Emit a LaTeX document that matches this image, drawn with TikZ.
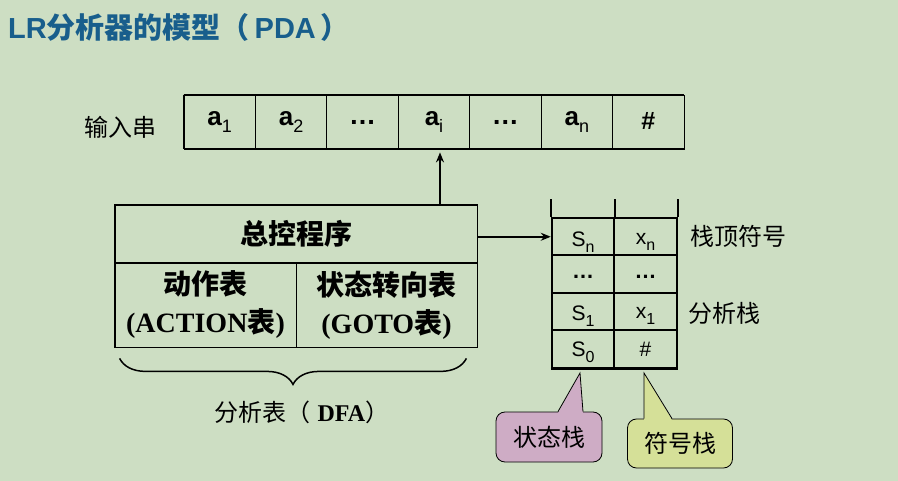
\documentclass[tikz,border=0pt]{standalone}
\usepackage{fontspec}
\setmainfont{Liberation Sans}
\newfontfamily\cjk{Noto Sans CJK SC}
\newfontfamily\tms{Liberation Serif}
\usetikzlibrary{arrows.meta,decorations.pathreplacing}
\definecolor{bgc}{RGB}{205,222,195}
\definecolor{titlec}{RGB}{24,94,140}
\definecolor{pinkc}{RGB}{206,172,197}
\definecolor{limec}{RGB}{213,224,152}
\newcommand{\fs}[1]{\fontsize{#1}{#1}\selectfont}
\newcommand{\tapesym}[2]{{\fs{26}\bfseries #1}\raisebox{-7pt}{\fs{18}#2}}
\newcommand{\stk}[2]{{\fs{21}#1}\raisebox{-6pt}{\fs{16}#2}}
\tikzset{
  tapecell/.style={draw, line width=0.8pt, minimum width=71.43pt, minimum height=54pt, inner sep=0pt},
  ctrlcell/.style={draw, line width=0.8pt, inner sep=0pt, align=center, font=\fontsize{28}{38}\selectfont},
  stcell/.style={draw, line width=2pt, minimum width=62.5pt, minimum height=37.5pt, inner sep=0pt, text depth=0pt},
  lbl/.style={inner sep=0pt},
  callout/.style={draw, line width=0.8pt, rounded corners=9pt, inner sep=0pt},
  conn/.style={line width=2pt, -{Stealth[length=10pt,width=8pt]}}
}
\begin{document}
\begin{tikzpicture}[x=1pt,y=-1pt]
\fill[bgc] (0,0) rectangle (898,481);
\useasboundingbox (0,0) rectangle (898,481);

% title
\node[lbl, anchor=west, text=titlec] (title) at (8,27) {\fs{29}\bfseries LR{\cjk 分析器的模型（}\,PDA\,{\cjk ）}};

% input tape
\node[lbl, anchor=west] (inlbl) at (84,127) {\fs{24}\cjk 输入串};
\node[tapecell] (t1) at (219.71,122) {\tapesym{a}{1}};
\node[tapecell] (t2) at (291.14,122) {\tapesym{a}{2}};
\node[tapecell] (t3) at (362.57,122) {\fs{27}\bfseries …};
\node[tapecell] (t4) at (434.00,122) {\tapesym{a}{i}};
\node[tapecell] (t5) at (505.43,122) {\fs{27}\bfseries …};
\node[tapecell] (t6) at (576.86,122) {\tapesym{a}{n}};
\node[tapecell] (t7) at (648.29,122) {\raisebox{3pt}{\fs{25}\bfseries \#}};
\draw[line width=2pt] (t1.north west) -- (t7.north east);
\draw[line width=2pt] (t1.south west) -- (t7.south east);
\draw[line width=1.6pt] (t1.north west) -- (t1.south west);

% control program box
\node[ctrlcell, minimum width=362pt, minimum height=57pt] (ctop) at (296,233.5) {\cjk\bfseries 总控程序};
\node[ctrlcell, minimum width=181pt, minimum height=84pt] (cact) at (205.5,305) {{\cjk\bfseries 动作表}\\{\tms\bfseries (ACTION{\cjk 表})}};
\node[ctrlcell, minimum width=181pt, minimum height=84pt] (cgoto) at (386.5,305) {{\cjk\bfseries 状态转向表}\\{\tms\bfseries (GOTO{\cjk 表})}};
\draw[line width=1.6pt] (ctop.north west) rectangle (cgoto.south east);

% arrow to tape
\coordinate (ati) at ([shift={(6,3)}]t4.south);
\draw[conn] (ctop.north -| ati) -- (ati);

% brace and label
\draw[line width=1.5pt, decorate, decoration={brace, mirror, amplitude=26pt}]
  ([shift={(5,11)}]cact.south west) -- ([shift={(-11,11)}]cgoto.south east);
\node[lbl] (dfa) at (302,412) {\fs{24}{\cjk 分析表（}\ {\tms\bfseries DFA}{\cjk ）}};

% stack
\node[stcell] (sn) at (583,236.75) {\raisebox{-4pt}{\stk{S}{n}}};
\node[stcell] (xn) at (645.5,236.75) {\raisebox{-4pt}{\stk{x}{n}}};
\node[stcell] (sd) at (583,274.25) {\raisebox{-4pt}{\fs{22}\bfseries …}};
\node[stcell] (xd) at (645.5,274.25) {\raisebox{-4pt}{\fs{22}\bfseries …}};
\node[stcell] (s1) at (583,311.75) {\raisebox{-3pt}{\stk{S}{1}}};
\node[stcell] (x1) at (645.5,311.75) {\raisebox{-3pt}{\stk{x}{1}}};
\node[stcell] (s0) at (583,349.25) {\stk{S}{0}};
\node[stcell] (h0) at (645.5,349.25) {\fs{21}\#};
\draw[line width=2pt] (sn.north west) -- ++(0,-18);
\draw[line width=2pt] (sn.north east) -- ++(0,-18);
\draw[line width=2pt] (xn.north east) -- ++(0,-18);
\draw[line width=2.6pt] (s0.south west) -- (h0.south east);

\draw[conn] (ctop.east |- sn.west) -- (sn.west);

\node[lbl, anchor=west] (toplbl) at (690,236) {\fs{24}\cjk 栈顶符号};
\node[lbl, anchor=west] (stklbl) at (688,313) {\fs{24}\cjk 分析栈};

% callouts
\node[callout, fill=pinkc, minimum width=106pt, minimum height=50pt] (cs) at (549,437) {\fs{24}\cjk 状态栈};
\coordinate (tipA) at ([shift={(-3,4)}]s0.south);
\fill[pinkc] ([shift={(9,1.5)}]cs.north) -- (tipA) -- ([shift={(34,1.5)}]cs.north) -- cycle;
\draw[line width=0.8pt] ([shift={(9,0)}]cs.north) -- (tipA) -- ([shift={(34,0)}]cs.north);

\node[callout, fill=limec, minimum width=105pt, minimum height=49pt] (cx) at (680,443.5) {\fs{24}\cjk 符号栈};
\coordinate (tipB) at ([shift={(-1.5,4)}]h0.south);
\fill[limec] ([shift={(-36,1.5)}]cx.north) -- (tipB) -- ([shift={(-8,1.5)}]cx.north) -- cycle;
\draw[line width=0.8pt] ([shift={(-36,0)}]cx.north) -- (tipB) -- ([shift={(-8,0)}]cx.north);
\end{tikzpicture}
\end{document}
